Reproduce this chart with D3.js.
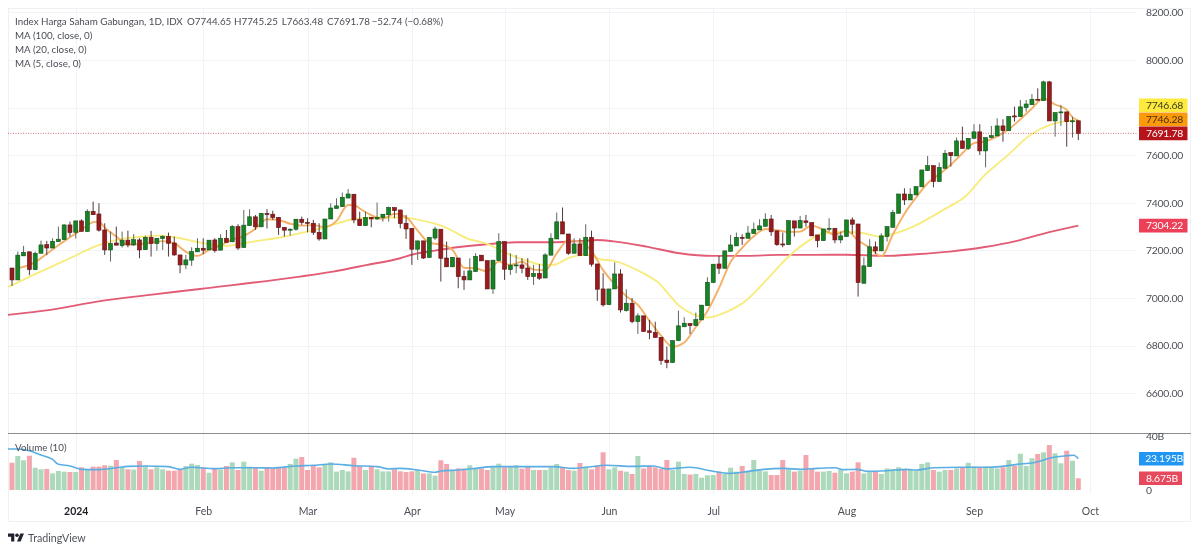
<!DOCTYPE html>
<html>
<head>
<meta charset="utf-8">
<script src="https://cdn.jsdelivr.net/npm/d3@7/dist/d3.min.js"></script>
<style>
html,body{margin:0;padding:0;background:#fff}
svg{display:block;filter:blur(0.35px)}
text{font-family:Lato,"Open Sans",sans-serif}
</style>
</head>
<body>
<svg id="chart" width="1200" height="552"></svg>
<script>
const open = [
7126,7076,7177,7194,7119,7188,7224,7210,7237,7245,
7307,7276,7324,7279,7364,7353,7286,7202,7231,7220,
7243,7223,7244,7203,7255,7229,7250,7259,7231,7181,
7139,7159,7194,7209,7202,7244,7201,7251,7236,7300,
7212,7304,7341,7299,7355,7352,7339,7297,7287,7289,
7331,7318,7314,7276,7248,7332,7376,7384,7420,7436,
7331,7304,7339,7332,7338,7350,7380,7370,7314,7293,
7205,7240,7170,7252,7289,7168,7131,7168,7091,7076,
7111,7180,7157,7038,7157,7237,7119,7136,7139,7126,
7090,7103,7084,7180,7248,7320,7269,7188,7227,7178,
7255,7143,7038,6972,7038,7101,6947,6978,6901,6925,
6862,6855,6835,6739,6729,6821,6879,6893,6884,6908,
6968,7065,7143,7125,7196,7219,7255,7251,7271,7286,
7301,7332,7282,7227,7224,7324,7294,7324,7317,7265,
7241,7289,7293,7244,7258,7328,7311,7062,7132,7215,
7198,7258,7297,7356,7437,7412,7433,7467,7535,7556,
7489,7545,7611,7597,7660,7628,7671,7698,7618,7674,
7681,7723,7703,7765,7762,7800,7812,7835,7829,7908,
7744,7779,7782,7743,7744.65];
const high = [
7126,7195,7219,7194,7195,7241,7240,7251,7300,7310,
7321,7324,7331,7373,7405,7398,7314,7279,7300,7279,
7283,7269,7251,7262,7282,7251,7264,7275,7258,7181,
7181,7213,7251,7251,7243,7251,7268,7286,7307,7310,
7370,7373,7349,7356,7373,7367,7339,7297,7293,7331,
7342,7335,7328,7314,7332,7398,7419,7443,7458,7436,
7363,7363,7339,7401,7352,7384,7380,7370,7349,7293,
7240,7240,7255,7300,7289,7237,7171,7168,7115,7167,
7188,7180,7157,7159,7272,7237,7188,7181,7167,7167,
7139,7142,7188,7272,7359,7380,7269,7251,7251,7310,
7283,7143,7104,7038,7150,7121,7037,7000,6936,6925,
6908,6900,6835,6796,6821,6947,6919,6893,6939,6970,
7087,7142,7177,7198,7265,7275,7268,7303,7317,7331,
7356,7349,7282,7275,7325,7324,7345,7349,7317,7265,
7290,7335,7293,7279,7328,7339,7311,7171,7247,7237,
7272,7300,7370,7437,7461,7461,7468,7538,7597,7556,
7569,7622,7611,7674,7720,7671,7730,7730,7674,7723,
7755,7751,7763,7804,7832,7832,7857,7881,7913,7912,
7779,7811,7782,7762,7745.25];
const low = [
7051,7076,7177,7096,7119,7188,7180,7210,7237,7245,
7258,7250,7280,7279,7350,7279,7181,7153,7222,7212,
7213,7219,7167,7203,7174,7199,7202,7174,7177,7104,
7121,7135,7194,7184,7202,7191,7201,7234,7236,7202,
7212,7304,7286,7299,7292,7328,7265,7258,7262,7283,
7307,7276,7265,7241,7248,7332,7376,7384,7420,7314,
7304,7304,7297,7328,7321,7321,7335,7293,7248,7139,
7160,7164,7170,7244,7069,7131,7131,7041,7034,7076,
7111,7156,7038,7017,7157,7076,7097,7104,7104,7076,
7055,7076,7084,7180,7248,7269,7181,7188,7178,7178,
7132,6988,6964,6972,7038,6939,6943,6894,6849,6859,
6827,6834,6719,6705,6729,6821,6879,6849,6884,6908,
6968,7065,7101,7125,7196,7219,7223,7251,7271,7286,
7301,7261,7219,7213,7224,7258,7294,7300,7261,7213,
7241,7279,7230,7230,7258,7269,7006,7062,7132,7184,
7198,7237,7297,7356,7391,7412,7433,7467,7535,7465,
7489,7545,7552,7597,7628,7622,7671,7601,7549,7671,
7681,7657,7703,7741,7762,7783,7812,7831,7829,7744,
7678,7723,7636,7674,7663.48];
const close = [
7076,7180,7192,7119,7188,7223,7210,7238,7247,7307,
7275,7324,7280,7364,7350,7285,7202,7229,7222,7243,
7223,7245,7202,7255,7230,7251,7259,7230,7181,7139,
7160,7195,7209,7201,7243,7199,7251,7234,7300,7210,
7306,7341,7299,7356,7352,7338,7296,7285,7289,7331,
7318,7314,7276,7248,7332,7378,7387,7423,7437,7328,
7304,7338,7332,7339,7352,7380,7367,7313,7290,7205,
7240,7168,7255,7290,7167,7131,7171,7090,7076,7114,
7175,7156,7038,7159,7237,7121,7138,7139,7125,7090,
7103,7083,7181,7251,7320,7269,7188,7227,7178,7255,
7142,7037,6971,7038,7101,6950,6978,6901,6925,6859,
6855,6834,6737,6729,6821,6883,6894,6884,6909,6970,
7066,7142,7125,7198,7223,7255,7254,7273,7289,7303,
7331,7278,7224,7224,7325,7294,7325,7317,7261,7241,
7290,7293,7244,7261,7328,7310,7065,7135,7215,7198,
7261,7300,7359,7437,7412,7436,7468,7538,7556,7489,
7548,7608,7598,7660,7628,7671,7698,7618,7674,7682,
7723,7703,7763,7762,7803,7815,7835,7831,7908,7744,
7779,7782,7741,7744.52,7691.78];
// volume, billions of shares
const volume = [
20.2,25.2,22.0,25.4,16.5,15.3,15.6,12.3,14.1,13.6,
13.3,13.3,16.8,15.3,17.3,17.3,18.3,18.0,22.2,16.8,
15.3,15.1,21.5,17.8,15.3,16.8,15.3,14.3,14.3,14.8,
17.8,19.5,18.5,16.5,12.8,15.8,15.3,17.8,20.5,14.8,
21.0,17.3,16.8,14.3,16.5,16.5,16.5,16.5,19.3,23.2,
24.4,14.8,18.5,16.8,18.5,20.5,13.6,14.8,13.8,23.9,
17.8,14.8,17.8,15.3,13.8,13.8,15.3,13.8,13.3,13.8,
14.8,12.3,12.3,10.6,22.0,19.3,14.3,16.0,15.8,18.3,
16.0,16.0,14.8,17.8,19.5,16.8,17.3,18.3,15.8,17.3,
14.8,14.8,14.8,16.8,19.3,16.8,14.8,14.3,20.0,17.3,
15.3,18.0,27.9,15.3,16.8,14.3,13.6,11.9,25.2,16.0,
18.0,16.8,15.6,22.2,14.8,21.0,11.9,11.4,11.9,9.1,
10.9,11.1,13.6,11.9,16.5,13.6,17.8,13.6,22.2,14.3,
13.8,11.1,11.1,22.2,15.3,13.6,14.3,25.9,16.0,13.6,
13.6,14.1,12.8,15.3,12.3,13.6,20.5,12.3,13.1,13.6,
11.9,16.0,15.6,16.8,15.3,14.8,14.3,19.3,20.5,14.8,
13.6,14.8,14.8,16.0,16.5,20.2,17.3,16.8,17.3,16.8,
16.0,16.8,22.2,18.0,26.9,17.8,23.5,26.7,27.9,33.3,
27.2,19.8,29.1,21.7,8.675];

// moving averages at these sessions
const ma5Sessions = [1,3,4,6,8,10,12,14,15,16,18,20,22,24,26,28,30,32,34,36,38,40,42,44,46,48,50,52,54,56,58,59,60,62,64,66,68,70,72,74,76,78,80,82,84,86,88,90,92,94,96,98,100,102,104,106,108,110,112,114,116,118,120,122,124,126,128,130,132,134,136,138,140,142,144,146,148,150,152,154,156,158,160,162,164,166,168,170,172,174,176,178,179,180,182,183,184];
const ma5Values = [7125,7139,7151,7186,7222,7255,7287,7319,7321,7296,7258,7224,7227,7231,7239,7230,7194,7177,7202,7221,7245,7260,7291,7331,7328,7312,7304,7306,7298,7324,7391,7391,7376,7348,7333,7354,7340,7283,7232,7224,7203,7127,7125,7112,7153,7139,7152,7119,7116,7188,7242,7236,7198,7117,7058,7008,6971,6904,6842,6795,6813,6878,6945,7042,7151,7211,7259,7290,7285,7277,7279,7304,7287,7266,7283,7242,7211,7175,7267,7354,7422,7482,7520,7560,7608,7651,7658,7679,7709,7751,7796,7839,7827,7813,7791,7759,7746.28];
const ma20Sessions = [-0.7,3.7,9.4,14.6,18.1,22.7,25.5,28.4,32.4,37,41.6,46.2,49.7,54,58.9,62.9,67,71,74.5,78.5,82,85.4,88.8,91.7,93.4,96.3,99.2,101.5,103.8,108.4,111.3,115.3,119.9,123.4,126.8,130.2,133.7,137.7,140,144,146.9,149.8,152,155.5,160.7,164.8,167.6,171.7,175.7,179.1,181.4,184];
const ma20Values = [7046,7097,7160,7219,7244,7258,7262,7254,7233,7219,7237,7254,7272,7297,7331,7338,7338,7324,7300,7251,7227,7188,7157,7139,7139,7171,7181,7163,7156,7111,7069,6964,6918,6943,6992,7076,7167,7244,7272,7277,7272,7258,7269,7300,7370,7433,7510,7597,7685,7727,7741,7746.68];
const ma100Sessions = [-0.7,6.6,15.2,23.8,32.4,49.7,55.4,61.3,67,69.3,72.7,76.8,82,87,92.8,98.6,101,103.8,109.5,115.2,121,126.8,132.5,138.3,144,150.4,156,161.8,167.6,173.4,179,184];
const ma100Values = [6929,6950,6987,7013,7038,7090,7111,7139,7167,7184,7198,7213,7226,7234,7234,7240,7244,7238,7216,7188,7177,7177,7181,7181,7182,7177,7184,7195,7213,7240,7277,7304.22];
const volMaSessions = [-0.7,1,3,5,7,8,10,12,15,18,20,23,27,29,31,35,38,42,45,49,52,55,59,63,65,67,70,73,74,77,80,83,86.5,90,93.4,96.8,99,102.6,107.2,110.7,113,117,120.5,124,126.8,129.7,133.2,136,138.9,142,143.5,145.8,147.5,151,154.4,156.1,159,163.6,168.2,170.5,173.4,176.3,179.7,182,183.2,184];
const volMaValues = [30.4,30.4,29.1,25.9,22.7,19,17.8,15.3,15.1,16.5,17.5,17.8,17.3,15.3,16.8,15.8,16.5,16.5,16.3,17.8,18.3,19.3,18,17.3,15.6,16,14.8,13.1,14.1,14.8,16,17.3,17.3,17.3,17.3,16,16.8,18.3,17.5,17.8,15.6,16.8,14.3,12.3,13.6,15.3,16,15.3,16,16.5,15.1,15.3,13.8,14.3,15.3,14.8,16.5,16.8,16.8,17.3,19,20.2,24.2,25.4,25.7,23.195];

const priceTicks = [6600,6800,7000,7200,7400,7600,7800,8000,8200];
const priceTickLabels = ["6600.00","6800.00","7000.00","7200.00","7400.00","7600.00","","8000.00","8200.00"];
const volumeTicks = [0,40];
const volumeTickLabels = ["0","40B"];
const monthSessions = [11,33,51,69,85,103,121,144,166,186];
const monthLabels = ["2024","Feb","Mar","Apr","May","Jun","Jul","Aug","Sep","Oct"];
const legendRows = ["MA (100, close, 0)","MA (20, close, 0)","MA (5, close, 0)"];
const titleText = "Index Harga Saham Gabungan, 1D, IDX";
const ohlcText = ["O7744.65","H7745.25","L7663.48","C7691.78","\u221252.74 (\u22120.68%)"];

const colUp="#168324", colDown="#981b1e", wickUp="#5d6b5f", wickDown="#56393a";
const volUp="#acd8bb", volDown="#f3a6ae";
const grid="#f1f3f7", ink="#4a4d55";
const axisFont=10.4, axisTrack="-0.22px";

const svg=d3.select("#chart");
const left=8,right=1137,frameR=1191,paneTop=8,paneSplit=433.5,frameB=522;
const x=d3.scaleLinear().domain([0,184]).range([12,1078.3]);
const y=d3.scaleLinear().domain([6600,8200]).range([393.2,12.4]);
const yv=d3.scaleLinear().domain([0,40]).range([490,436]);

svg.append("defs").append("clipPath").attr("id","plot").append("rect")
  .attr("x",left).attr("y",paneTop).attr("width",right-left).attr("height",frameB-paneTop);

// frame
svg.append("rect").attr("x",left+.5).attr("y",paneTop+.5).attr("width",frameR-left-1).attr("height",frameB-paneTop-1)
  .attr("fill","none").attr("stroke","#eef0f3");

// grid
svg.append("g").selectAll("line").data(monthSessions).join("line")
  .attr("x1",d=>Math.round(x(d))+.5).attr("x2",d=>Math.round(x(d))+.5)
  .attr("y1",paneTop).attr("y2",494).attr("stroke",grid);
svg.append("g").selectAll("line").data(priceTicks).join("line")
  .attr("x1",left).attr("x2",right)
  .attr("y1",d=>Math.round(y(d))+.5).attr("y2",d=>Math.round(y(d))+.5).attr("stroke",grid);

// volume
const plot=svg.append("g").attr("clip-path","url(#plot)");
plot.append("g").selectAll("rect").data(volume).join("rect")
  .attr("x",(d,i)=>x(i)-2.5).attr("width",5)
  .attr("y",d=>yv(d)).attr("height",d=>yv(0)-yv(d))
  .attr("fill",(d,i)=>close[i]<open[i]?volDown:volUp);

const lineOf=(xs,sc)=>d3.line().x((d,i)=>x(xs[i])).y(d=>sc(d)).curve(d3.curveMonotoneX);
plot.append("path").datum(volMaValues).attr("d",lineOf(volMaSessions,yv))
  .attr("fill","none").attr("stroke","#5aaee3").attr("stroke-width",1.6);

// moving averages
plot.append("path").datum(ma100Values).attr("d",lineOf(ma100Sessions,y))
  .attr("fill","none").attr("stroke","#e35c75").attr("stroke-width",1.9);
plot.append("path").datum(ma20Values).attr("d",lineOf(ma20Sessions,y))
  .attr("fill","none").attr("stroke","#f9ec7e").attr("stroke-width",1.9);
plot.append("path").datum(ma5Values).attr("d",lineOf(ma5Sessions,y))
  .attr("fill","none").attr("stroke","#f4b066").attr("stroke-width",1.9);

// last price dotted line
plot.append("line").attr("x1",left).attr("x2",right)
  .attr("y1",y(close[184])).attr("y2",y(close[184]))
  .attr("stroke","#c9686a").attr("stroke-width",.9).attr("stroke-dasharray","1 1.5");

// candles
const bars=plot.append("g").selectAll("g").data(close).join("g");
bars.append("line")
  .attr("x1",(d,i)=>x(i)).attr("x2",(d,i)=>x(i))
  .attr("y1",(d,i)=>y(high[i])).attr("y2",(d,i)=>y(low[i]))
  .attr("stroke",(d,i)=>d<open[i]?wickDown:wickUp).attr("stroke-width",1);
bars.append("rect")
  .attr("x",(d,i)=>x(i)-2).attr("width",4)
  .attr("y",(d,i)=>y(Math.max(d,open[i])))
  .attr("height",(d,i)=>Math.max(1,Math.abs(y(d)-y(open[i]))))
  .attr("fill",(d,i)=>d<open[i]?colDown:colUp)
  .attr("stroke",(d,i)=>d<open[i]?"#5e1214":"#124f18").attr("stroke-width",.6);

// pane separator
svg.append("line").attr("x1",left).attr("x2",frameR).attr("y1",paneSplit).attr("y2",paneSplit)
  .attr("stroke","#8b8d90").attr("stroke-width",1);

// price axis
const axisStyle=g=>{g.select(".domain").remove();g.selectAll(".tick line").remove();
  g.selectAll("text").attr("fill",ink).attr("font-size",axisFont).attr("letter-spacing",axisTrack)
   .attr("font-family",'Lato,"Open Sans",sans-serif');};
svg.append("g").attr("transform",`translate(1183,0)`)
  .call(d3.axisLeft(y).tickValues(priceTicks).tickSize(0).tickPadding(0)
    .tickFormat(d=>priceTickLabels[priceTicks.indexOf(d)])).call(axisStyle);
svg.append("g").attr("transform",`translate(1146,0)`)
  .call(d3.axisRight(yv).tickValues(volumeTicks).tickSize(0).tickPadding(0)
    .tickFormat(d=>volumeTickLabels[volumeTicks.indexOf(d)])).call(axisStyle);

// value badges
const badges=[
 {t:"7746.68",v:7746.68,bg:"#fdea3c",fg:"#3a3a20",scale:y,dy:-15},
 {t:"7746.28",v:7746.28,bg:"#fb9a0b",fg:"#4a2f10",scale:y,dy:-1},
 {t:"7691.78",v:7691.78,bg:"#b5151a",fg:"#ffffff",scale:y,dy:0},
 {t:"7304.22",v:7304.22,bg:"#ec3f58",fg:"#ffffff",scale:y,dy:0},
 {t:"23.195B",v:23.195,bg:"#2196f3",fg:"#ffffff",scale:yv,dy:0},
 {t:"8.675B",v:8.675,bg:"#e6485c",fg:"#ffffff",scale:yv,dy:0}];
const bg=svg.append("g").selectAll("g").data(badges).join("g")
  .attr("transform",d=>`translate(0,${d.scale(d.v)+d.dy})`);
bg.append("rect").attr("x",1139).attr("y",-6.8).attr("width",d=>d.scale===yv?(d.t.length>6?44.5:43):48.5)
  .attr("height",13.6).attr("fill",d=>d.bg).attr("rx",.5);
bg.append("text").attr("x",d=>d.scale===yv?(d.t.length>6?1183:1178):1183).attr("y",0).attr("dy","0.36em")
  .attr("text-anchor","end").attr("font-size",axisFont).attr("letter-spacing",axisTrack).attr("fill",d=>d.fg).text(d=>d.t);

// time axis
svg.append("g").attr("transform",`translate(0,511)`)
  .call(d3.axisBottom(x).tickValues(monthSessions).tickSize(0).tickPadding(0)
    .tickFormat(d=>monthLabels[monthSessions.indexOf(d)]))
  .call(g=>{g.select(".domain").remove();g.selectAll(".tick line").remove();
    g.selectAll("text").attr("y",0).attr("dy","0.36em").attr("font-size",10.5)
      .attr("font-family",'Lato,"Open Sans",sans-serif')
      .attr("font-weight",d=>d===monthSessions[0]?700:400)
      .attr("fill",d=>d===monthSessions[0]?"#1e2026":ink);});

// legend
const lg=svg.append("g").attr("font-size",9.8).attr("fill",ink);
lg.append("text").attr("x",15).attr("y",24.5).text(titleText);
const ohlcX=[187,234,281.7,327,371.7];
lg.selectAll("text.o").data(ohlcText).join("text").attr("class","o")
  .attr("x",(d,i)=>ohlcX[i]).attr("y",24.5).text(d=>d);
lg.selectAll("text.m").data(legendRows).join("text").attr("class","m")
  .attr("x",15).attr("y",(d,i)=>38.5+i*14).text(d=>d);
lg.append("text").attr("x",15).attr("y",450.5).text("Volume (10)");

// footer logo
const logo=svg.append("g").attr("transform","translate(8,533.5) scale(0.45)").attr("fill","#1e222d");
logo.append("path").attr("d","M14 18H7V7H0V0h14v18zM28 18h-8L27.5 0h8L28 18z");
logo.append("circle").attr("cx",20).attr("cy",4).attr("r",4);
svg.append("text").attr("x",28).attr("y",542).attr("font-size",10.7).attr("fill","#50535c").text("TradingView");
</script>
</body>
</html>
